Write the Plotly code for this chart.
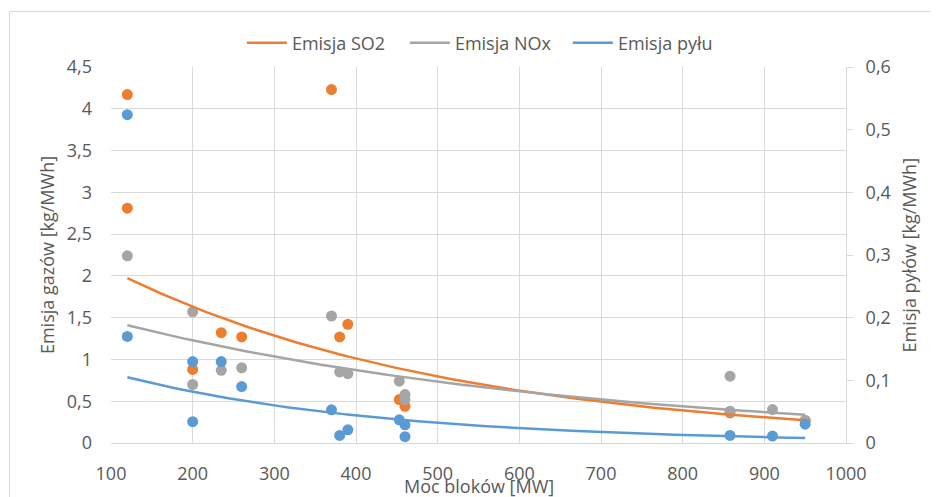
import numpy as np
import plotly.graph_objects as go

# ---- data ----
so2_x = [120, 120, 370, 200, 235, 260, 380, 390, 453, 460, 858, 950]
so2_y = [4.17, 2.81, 4.23, 0.88, 1.32, 1.27, 1.27, 1.42, 0.52, 0.44, 0.36, 0.27]

nox_x = [120, 200, 200, 235, 260, 370, 380, 390, 453, 460, 460, 858, 858, 910, 950]
nox_y = [2.24, 1.57, 0.70, 0.87, 0.90, 1.52, 0.85, 0.83, 0.74, 0.58, 0.52, 0.80, 0.38, 0.40, 0.27]

dust_x = [120, 120, 200, 200, 235, 260, 370, 380, 390, 453, 460, 460, 858, 910, 950]
dust_y = [0.524, 0.170, 0.130, 0.034, 0.130, 0.090, 0.053, 0.012, 0.021, 0.037, 0.029, 0.010, 0.012, 0.011, 0.030]

# exponential trendlines y = A * exp(B * x), coefficients
so2_trend = (2.63, -0.00239)
nox_trend = (1.73, -0.001715)
dust_trend = (0.152, -0.0031)
trend_range = (120, 950)

series_names = ["Emisja SO2", "Emisja NOx", "Emisja pyłu"]
x_title = "Moc bloków [MW]"
y_title = "Emisja gazów [kg/MWh]"
y2_title = "Emisja pyłów [kg/MWh]"

# ---- styling ----
ORANGE = "#ED7D31"
GRAY = "#A5A5A5"
BLUE = "#5B9BD5"
TXT = "#595959"
GRID = "#D9D9D9"
FONT = "Open Sans"
FS = 18

fig = go.Figure()

tx = np.linspace(trend_range[0], trend_range[1], 120)

def trend(c):
    return c[0] * np.exp(c[1] * tx)

# markers (SO2, NOx, dust in that drawing order)
fig.add_trace(go.Scatter(x=so2_x, y=so2_y, mode="markers", showlegend=False,
                         marker=dict(color=ORANGE, size=11), hoverinfo="skip"))
fig.add_trace(go.Scatter(x=nox_x, y=nox_y, mode="markers", showlegend=False,
                         marker=dict(color=GRAY, size=11), hoverinfo="skip"))
fig.add_trace(go.Scatter(x=dust_x, y=dust_y, mode="markers", showlegend=False, yaxis="y2",
                         marker=dict(color=BLUE, size=11), hoverinfo="skip"))

# trendlines (legend entries)
fig.add_trace(go.Scatter(x=tx, y=trend(so2_trend), mode="lines", name=series_names[0],
                         line=dict(color=ORANGE, width=2.5)))
fig.add_trace(go.Scatter(x=tx, y=trend(nox_trend), mode="lines", name=series_names[1],
                         line=dict(color=GRAY, width=2.5)))
fig.add_trace(go.Scatter(x=tx, y=trend(dust_trend), mode="lines", name=series_names[2],
                         yaxis="y2", line=dict(color=BLUE, width=2.5)))

# page offset of the figure (browser body margin)
OFF = 8
W, H = 938 - OFF, 497 - OFF
# plot area in page pixels: x 111..846.7, y 67..443.5
L = 111 - OFF
T = 67 - OFF
R = 938 - 846.5
B = 497 - 443.5
pw = W - L - R
ph = H - T - B

def px_x(p):  # page pixel -> paper x
    return (p - OFF - L) / pw

def px_y(p):  # page pixel -> paper y
    return (H - B - (p - OFF)) / ph

fig.update_layout(
    width=W, height=H,
    margin=dict(l=L, r=R, t=T, b=B, pad=0, autoexpand=False),
    paper_bgcolor="white", plot_bgcolor="white",
    separators=", ",
    font=dict(family=FONT, size=FS, color=TXT),
    showlegend=True,
    legend=dict(orientation="h", x=px_x(242), xanchor="left", y=px_y(43), yanchor="middle",
                font=dict(family=FONT, size=FS, color=TXT), bgcolor="rgba(0,0,0,0)",
                itemwidth=40, entrywidth=108, entrywidthmode="pixels"),
    xaxis=dict(range=[100, 1000], dtick=100, tick0=100, showgrid=True, gridcolor=GRID,
               gridwidth=1, zeroline=False, showline=True, linecolor=GRID, linewidth=1,
               ticks="", ticklabelstandoff=14, automargin=False,
               tickfont=dict(family=FONT, size=FS, color=TXT)),
    yaxis=dict(range=[0, 4.5], dtick=0.5, tick0=0, showgrid=True, gridcolor=GRID,
               gridwidth=1, zeroline=False, showline=False, ticks="",
               ticklabelstandoff=18, automargin=False,
               tickfont=dict(family=FONT, size=FS, color=TXT)),
    yaxis2=dict(range=[0, 0.6], dtick=0.1, tick0=0, overlaying="y", side="right",
                showgrid=False, zeroline=False, showline=True, linecolor=GRID, linewidth=1,
                ticks="outside", ticklen=6, tickcolor=GRID, ticklabelstandoff=9,
                automargin=False,
                tickfont=dict(family=FONT, size=FS, color=TXT)),
    annotations=[
        dict(text=x_title, xref="paper", yref="paper", x=0.5, y=px_y(487),
             xanchor="center", yanchor="middle", showarrow=False,
             font=dict(family=FONT, size=FS, color=TXT)),
        dict(text=y_title, xref="paper", yref="paper", x=px_x(47), y=0.5,
             xanchor="center", yanchor="middle", textangle=-90, showarrow=False,
             font=dict(family=FONT, size=FS, color=TXT)),
        dict(text=y2_title, xref="paper", yref="paper", x=px_x(910), y=0.5,
             xanchor="center", yanchor="middle", textangle=-90, showarrow=False,
             font=dict(family=FONT, size=FS, color=TXT)),
    ],
    shapes=[
        dict(type="rect", xref="paper", yref="paper",
             x0=px_x(9.5), x1=px_x(950), y0=px_y(510), y1=px_y(11.5),
             line=dict(color=GRID, width=1), fillcolor="rgba(0,0,0,0)", layer="below"),
    ],
)

fig.write_html("out.html")
